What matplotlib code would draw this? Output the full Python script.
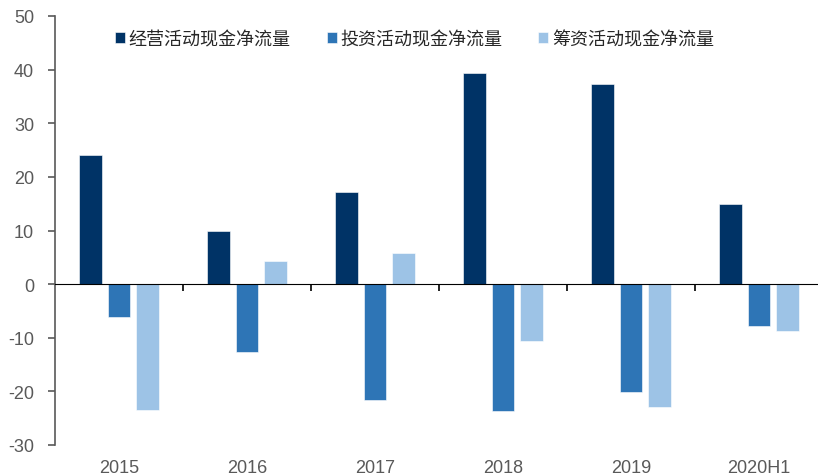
import matplotlib.pyplot as plt
import numpy as np

plt.rcParams['font.family'] = ['Liberation Sans', 'Noto Sans CJK SC', 'DejaVu Sans']
plt.rcParams['axes.unicode_minus'] = False

# 数据
years = ['2015', '2016', '2017', '2018', '2019', '2020H1']
operating = [24.1, 9.9, 17.2, 39.4, 37.3, 14.9]
investing = [-6.1, -12.6, -21.6, -23.6, -20.2, -7.8]
financing = [-23.4, 4.4, 5.8, -10.6, -22.9, -8.8]
series_names = ['经营活动现金净流量', '投资活动现金净流量', '筹资活动现金净流量']
colors = ['#003366', '#2E75B6', '#9DC3E6']

fig = plt.figure(figsize=(8.18, 4.77), dpi=100)
ax = fig.add_axes([55 / 818, 1 - 446 / 477, 768 / 818, 429 / 477])

x = np.arange(len(years))
w = 0.175
step = 0.222
for i, (vals, name, c) in enumerate(zip([operating, investing, financing], series_names, colors)):
    ax.bar(x + (i - 1) * step, vals, width=w, color=c, label=name,
           edgecolor='white', linewidth=0.4, zorder=2)

ax.set_xlim(-0.5, len(years) - 0.5)
ax.set_ylim(-30, 50)
ax.set_yticks(range(-30, 51, 10))

for s in ['top', 'right']:
    ax.spines[s].set_visible(False)
ax.spines['bottom'].set_position(('data', 0))
ax.spines['bottom'].set_color('black')
ax.spines['left'].set_color('#595959')
ax.spines['left'].set_linewidth(1.2)

ax.set_xticks(x[:-1] + 0.5)
ax.set_xticklabels([])
ax.tick_params(axis='x', direction='out', length=5, width=1.2, color='black')
ax.tick_params(axis='y', direction='out', length=5, width=1.2, color='#595959',
               labelsize=13, labelcolor='#595959', pad=10)

for xi, lab in zip(x, years):
    ax.text(xi, -0.052, lab, transform=ax.get_xaxis_transform(), ha='center', va='center',
            fontsize=13, color='#595959')

leg = ax.legend(loc='center left', bbox_to_anchor=(60 / 768, 0.946), ncol=3, frameon=False,
                borderpad=0, borderaxespad=0,
                handlelength=0.55, handleheight=0.55, handletextpad=0.2, columnspacing=2.0,
                prop={'family': ['Noto Sans CJK SC'], 'size': 13})
for t in leg.get_texts():
    t.set_color('#262626')

plt.savefig('out.png', dpi=100)
